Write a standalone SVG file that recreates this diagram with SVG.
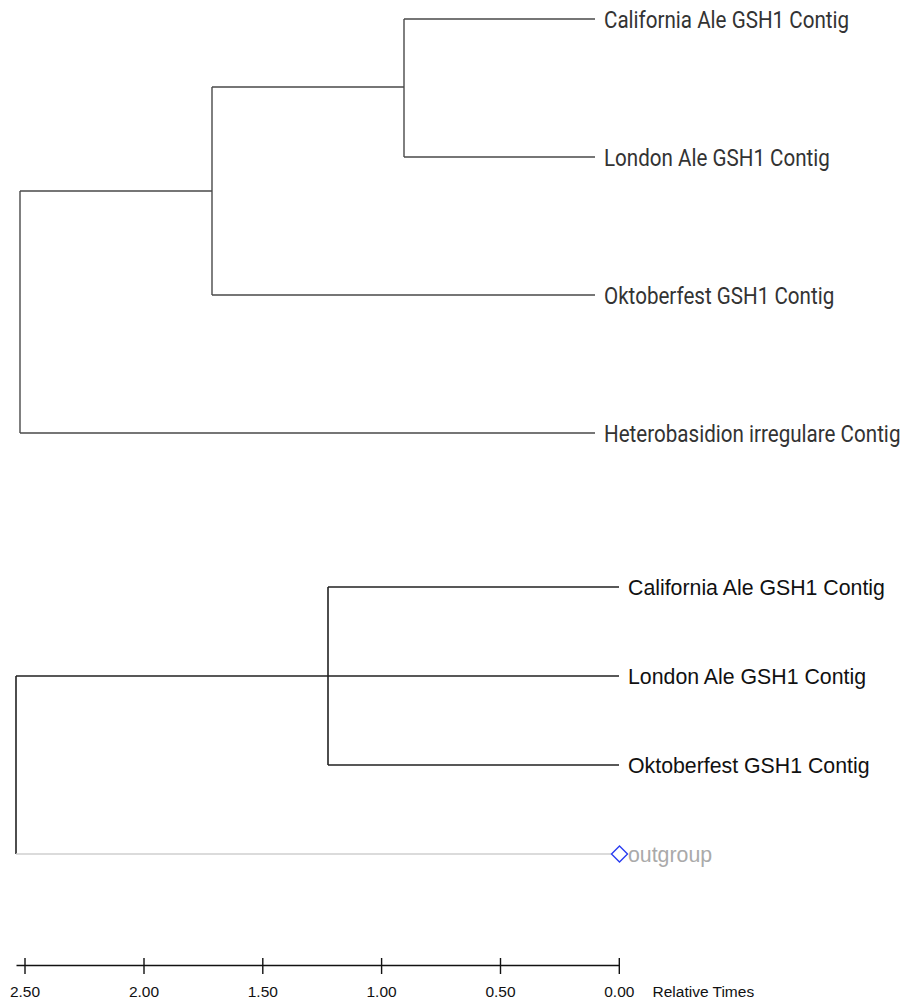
<svg xmlns="http://www.w3.org/2000/svg" width="904" height="1000" viewBox="0 0 904 1000">
<style>
.t1 { fill: none; stroke: #4a4a4a; stroke-width: 1.4; }
.t2 { fill: none; stroke: #222; stroke-width: 1.6; }
.og { fill: none; stroke: #cfcfcf; stroke-width: 1.6; }
.ax { fill: none; stroke: #111; stroke-width: 1.4; }
.lab1 { font-family: Roboto, "Liberation Sans", sans-serif; font-size: 20.6px; fill: #333; }
.lab2 { font-family: "Liberation Sans", Arial, sans-serif; font-size: 21.3px; fill: #111; }
.lab3 { font-family: "Liberation Sans", Arial, sans-serif; font-size: 21.3px; fill: #aaa; }
.axl { font-family: "Liberation Sans", Arial, sans-serif; font-size: 15.5px; fill: #111; text-anchor: middle; }
.axt { font-family: "Liberation Sans", Arial, sans-serif; font-size: 15.5px; fill: #111; }
</style>
<rect width="904" height="1000" fill="#fff"/>
<g id="connectors">
  <path class="t1" d="M20,191 V433 M20,191 H212 M212,87 V295 M212,87 H404 M404,19 V157 M404,19 H595 M404,157 H595 M212,295 H595 M20,433 H595"/>
  <path class="t2" d="M16,676 V854 M16,676 H619 M328,587 V765 M328,587 H619 M328,765 H619"/>
  <path class="og" d="M16,854 H611"/>
</g>
<g id="node-top-california"><text class="lab1" transform="translate(604,27.5) scale(1,1.12)">California Ale GSH1 Contig</text></g>
<g id="node-top-london"><text class="lab1" transform="translate(604,165.5) scale(1,1.12)">London Ale GSH1 Contig</text></g>
<g id="node-top-oktoberfest"><text class="lab1" transform="translate(604,303.5) scale(1,1.12)">Oktoberfest GSH1 Contig</text></g>
<g id="node-top-heterobasidion"><text class="lab1" transform="translate(604,441.5) scale(1,1.12)">Heterobasidion irregulare Contig</text></g>
<g id="node-bottom-california"><text class="lab2" x="628" y="595">California Ale GSH1 Contig</text></g>
<g id="node-bottom-london"><text class="lab2" x="628" y="684">London Ale GSH1 Contig</text></g>
<g id="node-bottom-oktoberfest"><text class="lab2" x="628" y="773">Oktoberfest GSH1 Contig</text></g>
<g id="node-outgroup">
  <path d="M619.5,846 L627.5,854 L619.5,862 L611.5,854 Z" fill="none" stroke="#2a3cf0" stroke-width="1.4"/>
  <text class="lab3" x="628" y="862">outgroup</text>
</g>
<g id="axis">
  <path class="ax" d="M16.5,965.5 H619.5 M25,958 V974 M144,958 V974 M262.8,958 V974 M381.6,958 V974 M500.5,958 V974 M619.3,958 V974"/>
  <text class="axl" x="25" y="996.5">2.50</text>
  <text class="axl" x="144" y="996.5">2.00</text>
  <text class="axl" x="262.8" y="996.5">1.50</text>
  <text class="axl" x="381.6" y="996.5">1.00</text>
  <text class="axl" x="500.5" y="996.5">0.50</text>
  <text class="axl" x="619.3" y="996.5">0.00</text>
  <text class="axt" x="652.5" y="996.5">Relative Times</text>
</g>
</svg>
